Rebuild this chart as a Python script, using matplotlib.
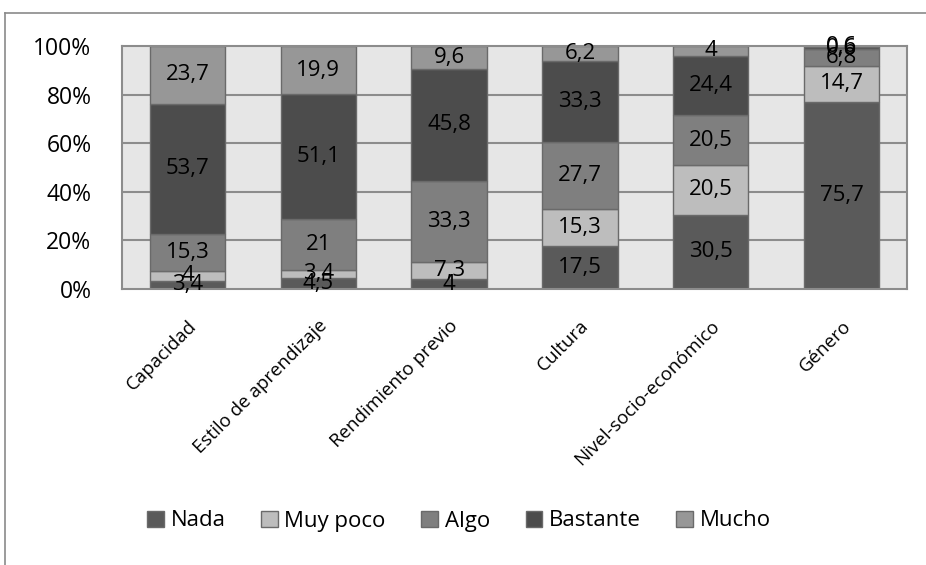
import matplotlib
matplotlib.use("Agg")
import matplotlib.pyplot as plt
from matplotlib.patches import Patch
from matplotlib.lines import Line2D
import numpy as np

categories = ["Capacidad", "Estilo de aprendizaje", "Rendimiento previo",
              "Cultura", "Nivel-socio-económico", "Género"]
series_names = ["Nada", "Muy poco", "Algo", "Bastante", "Mucho"]
nada = [3.4, 4.5, 4, 17.5, 30.5, 75.7]
muy_poco = [4, 3.4, 7.3, 15.3, 20.5, 14.7]
algo = [15.3, 21, 33.3, 27.7, 20.5, 6.8]
bastante = [53.7, 51.1, 45.8, 33.3, 24.4, 0.6]
mucho = [23.7, 19.9, 9.6, 6.2, 4, 0.6]
yticks = [0, 20, 40, 60, 80, 100]
ytick_labels = ["0%", "20%", "40%", "60%", "80%", "100%"]

colors = ["#5a5a5a", "#bdbdbd", "#7f7f7f", "#4c4c4c", "#979797"]

plt.rcParams['font.family'] = ['Open Sans', 'DejaVu Sans']

W, H = 926, 565
fig = plt.figure(figsize=(W / 100, H / 100), dpi=100)

# outer chart border (left and top edges visible)
fig.add_artist(Line2D([5 / W, 5 / W], [0, 1 - 13 / H], transform=fig.transFigure,
                      color="#8a8a8a", lw=1.2))
fig.add_artist(Line2D([5 / W, 1], [1 - 13 / H, 1 - 13 / H], transform=fig.transFigure,
                      color="#8a8a8a", lw=1.2))

left, right, top, bottom = 122, 907, 46, 289
ax = fig.add_axes([left / W, 1 - bottom / H, (right - left) / W, (bottom - top) / H])
ax.set_facecolor("#e6e6e6")

series = [nada, muy_poco, algo, bastante, mucho]
data = np.array(series, dtype=float)
totals = data.sum(axis=0)
pct = data / totals * 100

x = np.arange(len(categories))
for v in [20, 40, 60, 80]:
    ax.axhline(v, color="#8c8c8c", lw=1.5, zorder=1)

base = np.zeros(len(categories))
for i, name in enumerate(series_names):
    ax.bar(x, pct[i], bottom=base, width=0.575, color=colors[i],
           edgecolor="#6a6a6a", linewidth=1, label=name, zorder=2)
    for j in range(len(categories)):
        lbl = f"{data[i, j]:g}".replace(".", ",")
        ax.text(x[j], base[j] + pct[i, j] / 2, lbl, ha="center", va="center",
                fontsize=16, color="black", zorder=3)
    base += pct[i]

ax.set_xlim(-0.5, len(categories) - 0.5)
ax.set_ylim(0, 100)
ax.set_yticks(yticks)
ax.set_yticklabels(ytick_labels, fontsize=16.5)
ax.set_xticks(x)
ax.set_xticklabels(categories, rotation=45, ha="right", rotation_mode="anchor",
                   fontsize=13.5)
ax.tick_params(axis="x", length=0, pad=20)
ax.tick_params(axis="y", length=0, pad=22)
for s in ax.spines.values():
    s.set_color("#8c8c8c")
    s.set_linewidth(1.5)

handles = [Patch(facecolor=c, edgecolor="#6a6a6a", label=n)
           for c, n in zip(colors, series_names)]
fig.legend(handles=handles, loc="center", bbox_to_anchor=(459 / W, 1 - 521 / H),
           ncol=5, frameon=False, fontsize=16, handlelength=0.75, handleheight=0.75,
           handletextpad=0.3, columnspacing=1.6)

fig.savefig("out.png", dpi=100)
